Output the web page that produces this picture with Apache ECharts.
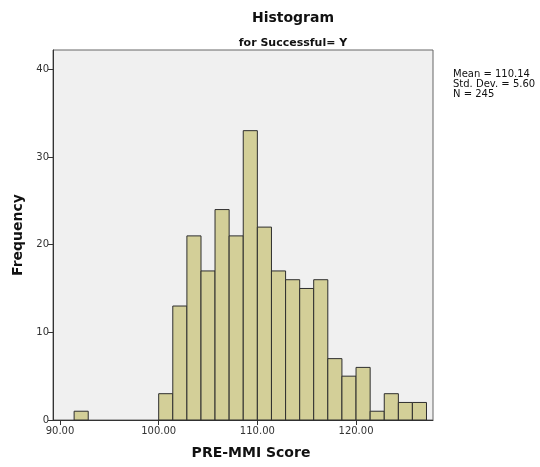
<!DOCTYPE html>
<html>
<head>
<meta charset="utf-8">
<script src="https://cdn.jsdelivr.net/npm/echarts@6/dist/echarts.min.js"></script>
<style>html,body{margin:0;padding:0;background:#fff}#c{width:540px;height:467px}</style>
</head>
<body>
<div id="c"></div>
<script>
// Histogram bins (bin width 10/7)
const binStart = [91.43, 100.00, 101.43, 102.86, 104.29, 105.71, 107.14, 108.57, 110.00, 111.43, 112.86, 114.29, 115.71, 117.14, 118.57, 120.00, 121.43, 122.86, 124.29, 125.71];
const binEnd   = [92.86, 101.43, 102.86, 104.29, 105.71, 107.14, 108.57, 110.00, 111.43, 112.86, 114.29, 115.71, 117.14, 118.57, 120.00, 121.43, 122.86, 124.29, 125.71, 127.14];
const counts   = [1, 3, 13, 21, 17, 24, 21, 33, 22, 17, 16, 15, 16, 7, 5, 6, 1, 3, 2, 2];
const xTicks = [90, 100, 110, 120];
const yTicks = [0, 10, 20, 30, 40];
const statsLines = ['Mean = 110.14', 'Std. Dev. = 5.60', 'N = 245'];

const data = counts.map((c, i) => [binStart[i], binEnd[i], c]);

const chart = echarts.init(document.getElementById('c'), null, {renderer: 'canvas'});
chart.setOption({
  animation: false,
  textStyle: {fontFamily: 'DejaVu Sans'},
  title: [
    {text: 'Histogram', left: 288, top: 6, textAlign: 'center',
     textStyle: {fontSize: 14, fontWeight: 'bold', color: '#111', fontFamily: 'DejaVu Sans'}},
    {text: 'for Successful= Y', left: 288, top: 33, textAlign: 'center',
     textStyle: {fontSize: 11, fontWeight: 'bold', color: '#111', fontFamily: 'DejaVu Sans'}}
  ],
  grid: {left: 53, top: 50, right: 107, bottom: 47, show: true,
         backgroundColor: '#f0f0f0', borderColor: '#666', borderWidth: 1},
  xAxis: {
    type: 'value', min: 89.29, max: 127.8,
    name: 'PRE-MMI Score', nameLocation: 'middle', nameGap: 26,
    nameTextStyle: {fontSize: 14, fontWeight: 'bold', color: '#111', padding: [0, 0, 0, 16]},
    axisLine: {show: true, onZero: false, lineStyle: {color: '#333'}},
    axisTick: {show: true, length: 5, customValues: xTicks, lineStyle: {color: '#333'}},
    axisLabel: {customValues: xTicks, formatter: v => v.toFixed(2), fontSize: 10, color: '#333', margin: 6},
    splitLine: {show: false}
  },
  yAxis: {
    type: 'value', min: 0, max: 42.2, interval: 10,
    name: 'Frequency', nameLocation: 'middle', nameGap: 28,
    nameTextStyle: {fontSize: 14, fontWeight: 'bold', color: '#111'},
    axisLine: {show: true, lineStyle: {color: '#333'}},
    axisTick: {show: true, length: 5, customValues: yTicks, lineStyle: {color: '#333'}},
    axisLabel: {customValues: yTicks, fontSize: 10, color: '#333', margin: 4},
    splitLine: {show: false}
  },
  graphic: [{
    type: 'text', left: 453, top: 69,
    style: {text: statsLines.join('\n'), fontSize: 10, lineHeight: 10, fill: '#111', fontFamily: 'DejaVu Sans'}
  }],
  series: [{
    type: 'custom',
    data: data,
    encode: {x: [0, 1], y: 2},
    renderItem: function (params, api) {
      const v = api.value(2);
      if (!v) return;
      const p0 = api.coord([api.value(0), 0]);
      const p1 = api.coord([api.value(1), v]);
      return {
        type: 'rect',
        shape: {x: p0[0], y: p1[1], width: p1[0] - p0[0], height: p0[1] - p1[1]},
        style: {fill: '#d3cf98', stroke: '#2e2e2e', lineWidth: 1}
      };
    }
  }]
});
</script>
</body>
</html>
